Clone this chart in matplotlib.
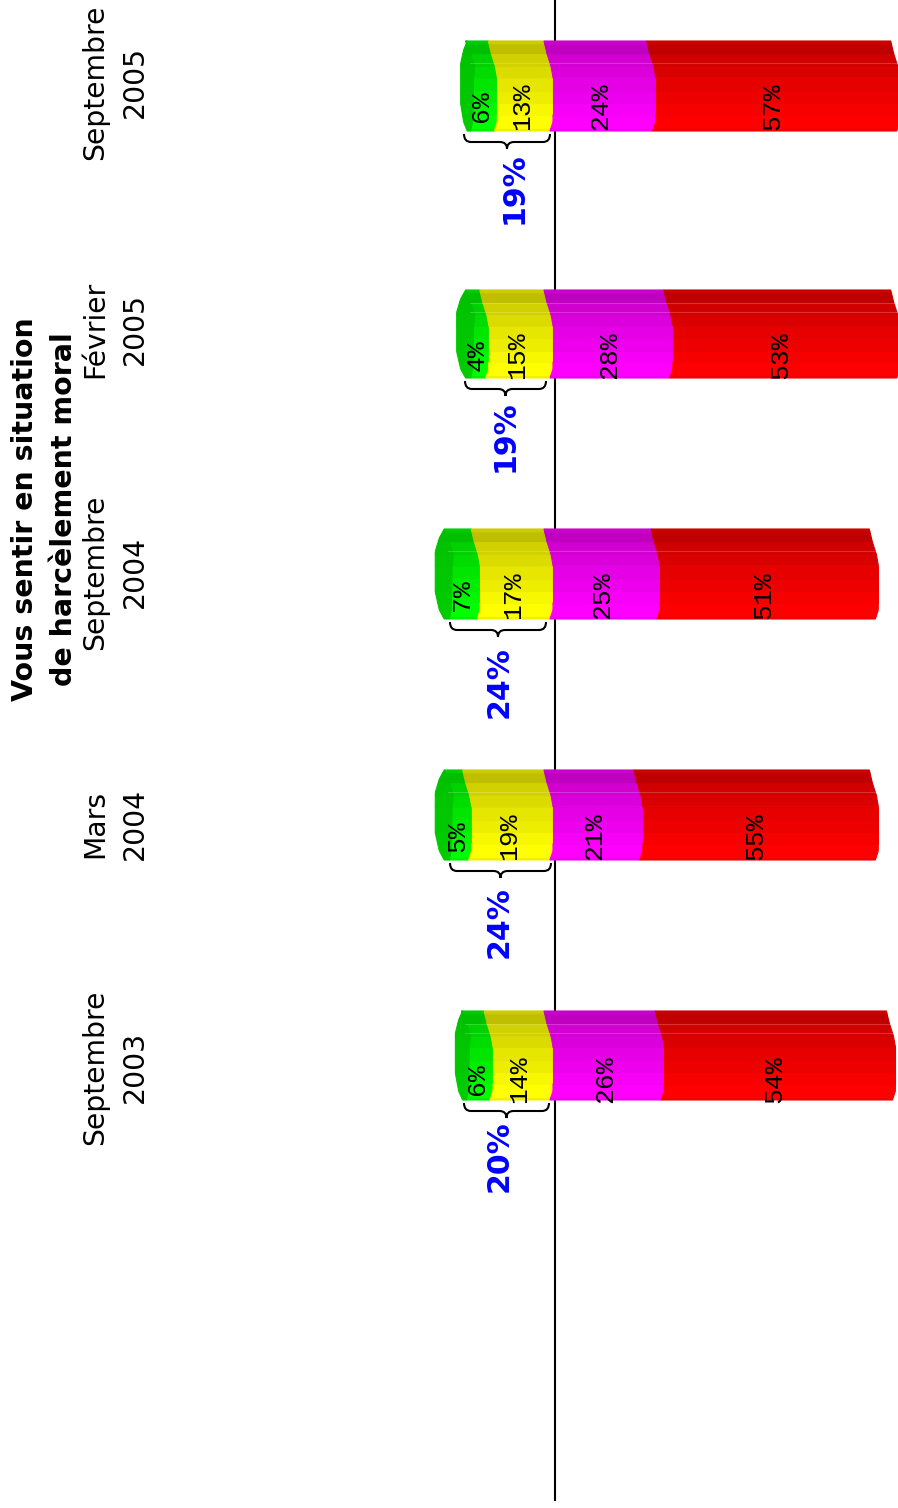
import numpy as np
import matplotlib
matplotlib.use("Agg")
import matplotlib.pyplot as plt
from matplotlib.path import Path
from matplotlib.patches import PathPatch, Rectangle

# survey values, top row first
periods = ["Septembre\n2005", "Février\n2005", "Septembre\n2004", "Mars\n2004", "Septembre\n2003"]
tres_souvent = [6, 4, 7, 5, 6]
souvent = [13, 15, 17, 19, 14]
parfois = [24, 28, 25, 21, 26]
jamais = [57, 53, 51, 55, 54]
cumul = ["19%", "19%", "24%", "24%", "20%"]

# row layout in figure pixels
row_top = [41, 290, 529, 770, 1011]
row_bottom = [131, 378, 619, 860, 1100]
label_y = [82, 329, 572, 824, 1067]
value_y = [106, 355, 595, 836, 1079]
ridges = [[22], [13, 22], [22], [22], [13, 22]]
cap_depth = [11, 15, 15, 15, 12]
brace_left = [464, 465, 450, 450, 464]
brace_right = [550, 546, 546, 551, 549]
cumul_x = [514, 505, 499, 499, 499]
cumul_bottom = [224, 472, 718, 958, 1192]
value_dx = [-3.5, -3.5, -4, -5.5]

ZERO_PX = 553
PX_PER_PCT = 4.28
W, H = 898, 1508

colors = [(0, 1, 0), (1, 1, 0), (1, 0, 1), (1, 0, 0)]

# shading of the cylinder, from bottom to top
band_t = [0, .03, .18, .31, .45, .59, .72, .86, .97, 1]
band_k = [.94, 1, .97, .93, .9, .86, .82, .75, .8]

# how the slice edges bend along the height (pixels)
edge_t = [0, .1, .6, .72, .86, 1]
edge_px = [-3, 0, 0, -2, -6, -9]
inner_px = [-1, 1, 2, 3, -1, -6]
cap_t = [0, .1, .3, .75, .9, 1]
cap_shape = [.4, .73, 1, 1, .73, .4]


def px2pct(px):
    return (px - ZERO_PX) / PX_PER_PCT


def band_poly(ax, y0, y1, t0, t1, left, right, left_px, right_px, color):
    ts = np.linspace(t0, t1, 8)
    ys = y1 + (y0 - y1) * ts
    xl = left + left_px(ts) / PX_PER_PCT
    xr = right + right_px(ts) / PX_PER_PCT
    ax.fill(np.r_[xl, xr[::-1]], np.r_[ys, ys[::-1]], color=color, lw=0.8, zorder=3)


def edge(ts):
    return np.interp(ts, edge_t, edge_px)


def inner(ts):
    return np.interp(ts, edge_t, inner_px)


fig = plt.figure(figsize=(W / 100, H / 100), dpi=100)
ax = fig.add_axes([0, 0, 1, 1])
ax.set_xlim(px2pct(0), px2pct(W))
ax.set_ylim(H, 0)
ax.axis("off")

ax.plot([px2pct(555)] * 2, [0, 1500], color="black", lw=1.5, zorder=1)

for i in range(len(periods)):
    vals = [tres_souvent[i], souvent[i], parfois[i], jamais[i]]
    y0, y1 = row_top[i], row_bottom[i]
    start = -(vals[0] + vals[1])
    depth = cap_depth[i]
    left = start
    for j, v in enumerate(vals):
        right = left + v
        for b in range(len(band_k)):
            col = tuple(c * band_k[b] for c in colors[j])
            band_poly(ax, y0, y1, band_t[b], band_t[b + 1], left, right,
                      inner if j == 0 else edge, edge, col)
            if j == 0:
                dark = tuple(c * (0.6 + 0.2 * band_k[b]) for c in colors[j])
                band_poly(ax, y0, y1, band_t[b], band_t[b + 1], start, start,
                          lambda ts: -depth * np.interp(ts, cap_t, cap_shape), inner, dark)
        # value printed on the slice, cut at the foot of the bar
        clip = Rectangle((px2pct(0), y0), px2pct(W) - px2pct(0), y1 - y0, transform=ax.transData)
        t = ax.text(left + v / 2 + value_dx[j] / PX_PER_PCT, value_y[i], "%d%%" % v, rotation=90,
                    ha="center", va="center", family="Liberation Mono", fontsize=19, color="black", zorder=5)
        t.set_clip_path(clip)
        left = right

    # faint ridges across the top of the cylinder
    for r in ridges[i]:
        ax.plot([start - 2 / PX_PER_PCT, start + 100], [y0 + r] * 2, color="white", alpha=0.2, lw=0.8, zorder=4)

    # brace under the two first slices
    xa, xb = px2pct(brace_left[i]), px2pct(brace_right[i])
    xm = (xa + xb) / 2
    ya = y1 + 3
    yb = y1 + 11
    yc = y1 + 18
    d = 7 / PX_PER_PCT
    verts = [(xa, ya), (xa, yb), (xa + d, yb), (xm - d, yb), (xm, yb), (xm, yc),
             (xm, yb), (xm + d, yb), (xb - d, yb), (xb, yb), (xb, ya)]
    codes = [Path.MOVETO, Path.CURVE3, Path.CURVE3, Path.LINETO, Path.CURVE3, Path.CURVE3,
             Path.CURVE3, Path.CURVE3, Path.LINETO, Path.CURVE3, Path.CURVE3]
    ax.add_patch(PathPatch(Path(verts, codes), fill=False, ec="black", lw=1.5, zorder=5))

    ax.text(px2pct(cumul_x[i]), cumul_bottom[i], cumul[i], rotation=90, ha="center", va="bottom",
            color="blue", fontsize=21.6, fontweight="bold")

    ax.text(px2pct(115), label_y[i], periods[i], rotation=90, ha="center", va="center",
            multialignment="center", fontsize=20.3, linespacing=1.5, color="black")

ax.text(px2pct(45), 509, "Vous sentir en situation\nde harcèlement moral", rotation=90, ha="center", va="center",
        multialignment="center", fontsize=20.5, fontweight="bold", linespacing=1.5, color="black")

fig.savefig("out.png", dpi=100)
